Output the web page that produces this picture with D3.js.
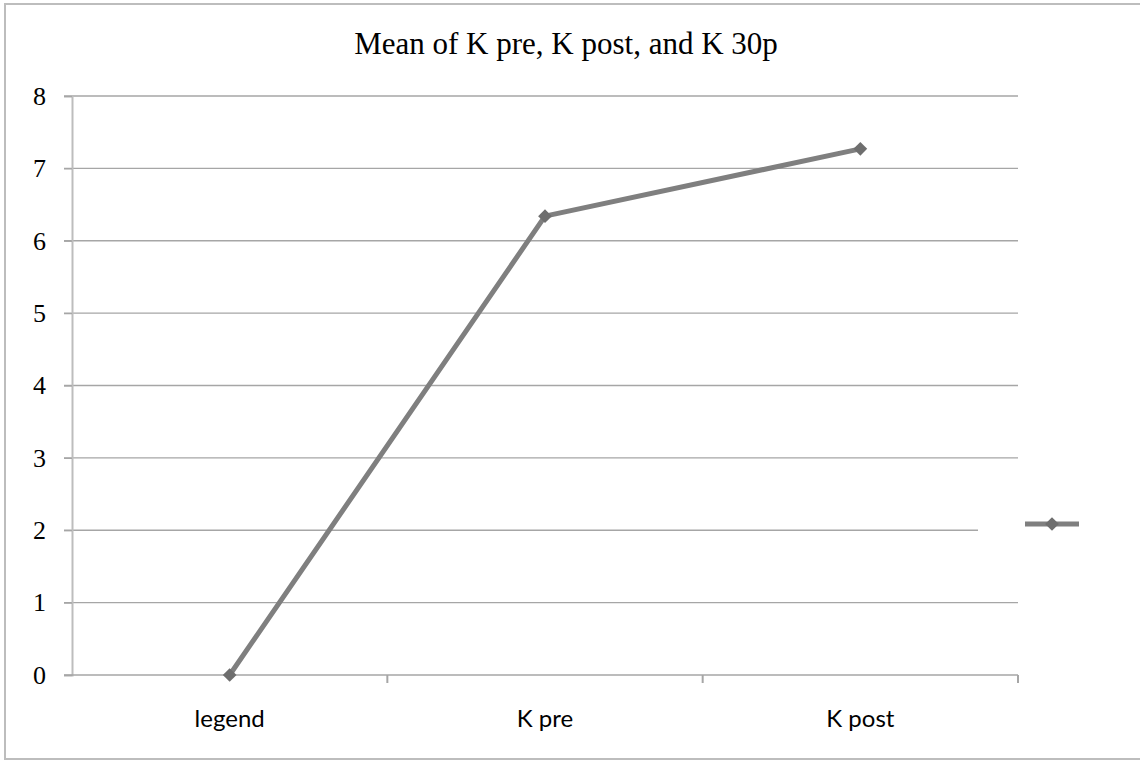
<!DOCTYPE html>
<html>
<head>
<meta charset="utf-8">
<script src="https://cdn.jsdelivr.net/npm/d3@7"></script>
<style>
  body { margin: 0; background: #fff; }
</style>
</head>
<body>
<div id="chart"></div>
<script>
const categories = ["legend", "K pre", "K post"];
const values = [0, 6.34, 7.27];
const yTicks = [0, 1, 2, 3, 4, 5, 6, 7, 8];
const title = "Mean of K pre, K post, and K 30p";

const width = 1140, height = 761;
const plotLeft = 72, plotRight = 1018, plotTop = 96, plotBottom = 675;

const svg = d3.select("#chart").append("svg")
  .attr("width", width)
  .attr("height", height);

// outer frame
svg.append("rect")
  .attr("x", 5).attr("y", 4)
  .attr("width", 1150).attr("height", 755)
  .attr("fill", "none")
  .attr("stroke", "#bdbdbd")
  .attr("stroke-width", 2);

const x = d3.scaleBand().domain(categories).range([plotLeft, plotRight]);
const y = d3.scaleLinear().domain([0, 8]).range([plotBottom, plotTop]);

// gridlines (the one at 2 is cut short by the legend)
svg.append("g").selectAll("line")
  .data(yTicks.filter(d => d > 0))
  .join("line")
  .attr("x1", plotLeft - 8)
  .attr("x2", d => d === 2 ? 978 : plotRight)
  .attr("y1", d => y(d)).attr("y2", d => y(d))
  .attr("stroke", "#a6a6a6")
  .attr("stroke-width", 1.3);

// y axis
const yAxis = svg.append("g")
  .attr("transform", `translate(${plotLeft},0)`)
  .call(d3.axisLeft(y).tickValues(yTicks).tickSize(8).tickPadding(18));
yAxis.select(".domain").attr("stroke", "#bdbdbd").attr("stroke-width", 2);
yAxis.selectAll(".tick line").attr("stroke", "#a6a6a6").attr("stroke-width", 1.3);
yAxis.selectAll(".tick text")
  .style("font-family", "'Liberation Serif', 'Times New Roman', serif")
  .style("font-size", "26px")
  .attr("fill", "#000");

// x axis
const xAxis = svg.append("g")
  .attr("transform", `translate(0,${plotBottom})`)
  .call(d3.axisBottom(x).tickSize(0).tickPadding(35));
xAxis.select(".domain").remove();
xAxis.selectAll(".tick text")
  .style("font-family", "Lato, 'Open Sans', sans-serif")
  .style("font-size", "24px")
  .attr("fill", "#000");

// baseline and category separators
svg.append("line")
  .attr("x1", plotLeft - 8).attr("x2", plotRight)
  .attr("y1", plotBottom).attr("y2", plotBottom)
  .attr("stroke", "#a6a6a6").attr("stroke-width", 1.5);
svg.append("g").selectAll("line")
  .data(categories)
  .join("line")
  .attr("x1", d => x(d) + x.bandwidth())
  .attr("x2", d => x(d) + x.bandwidth())
  .attr("y1", plotBottom).attr("y2", plotBottom + 8)
  .attr("stroke", "#a6a6a6").attr("stroke-width", 2);

// title
svg.append("text")
  .attr("x", 566).attr("y", 54)
  .attr("text-anchor", "middle")
  .style("font-family", "'Liberation Serif', 'Times New Roman', serif")
  .style("font-size", "31px")
  .text(title);

// series line
const pts = categories.map((c, i) => [x(c) + x.bandwidth() / 2, y(values[i])]);
svg.append("path")
  .attr("d", d3.line()(pts))
  .attr("fill", "none")
  .attr("stroke", "#7f7f7f")
  .attr("stroke-width", 5)
  .attr("stroke-linejoin", "round");

const diamond = d3.symbol().type(d3.symbolDiamond2).size(120);
svg.append("g").selectAll("path")
  .data(pts)
  .join("path")
  .attr("transform", d => `translate(${d[0]},${d[1]})`)
  .attr("d", diamond)
  .attr("fill", "#6e6e6e");

// legend
const lg = svg.append("g").attr("transform", "translate(1052,524)");
lg.append("line")
  .attr("x1", -27).attr("x2", 27)
  .attr("stroke", "#7f7f7f").attr("stroke-width", 5);
lg.append("path").attr("d", diamond).attr("fill", "#6e6e6e");
</script>
</body>
</html>
